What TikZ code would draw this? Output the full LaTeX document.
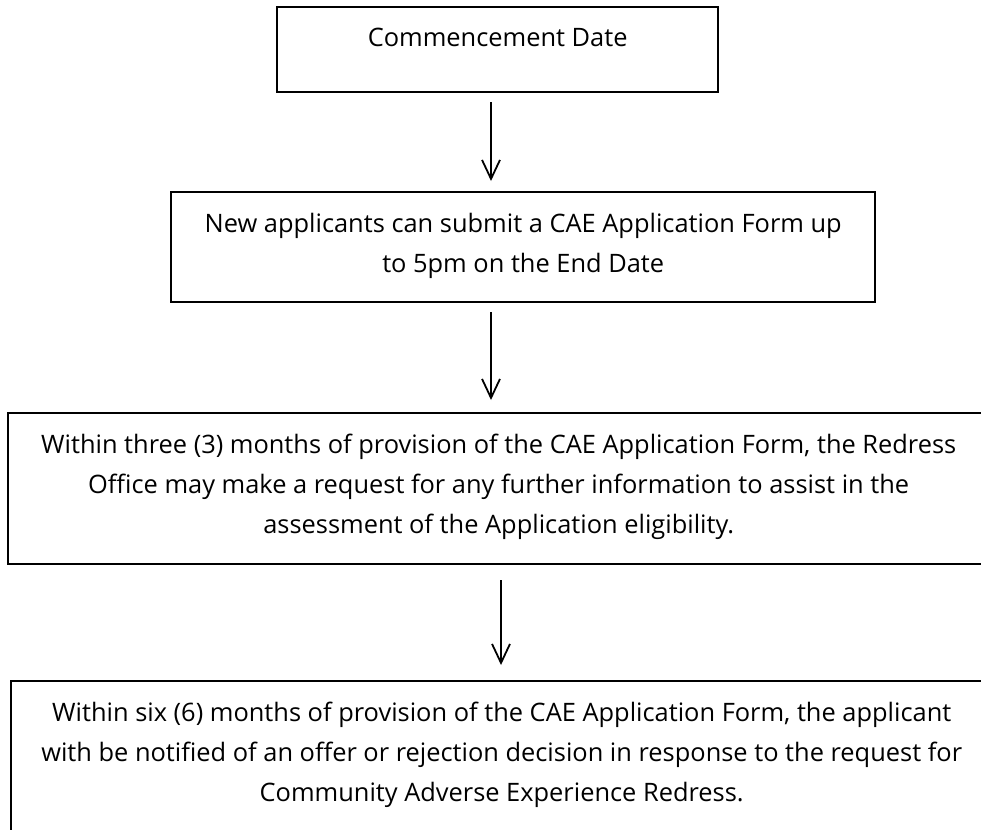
\documentclass[tikz,border=0pt]{standalone}
\usepackage{fontspec}
\setmainfont{Open Sans}
\usetikzlibrary{arrows.meta}
\tikzset{
	stepbox/.style={draw, line width=2.4pt, inner sep=0pt, anchor=north west},
	steptext/.style={anchor=north, inner sep=0pt, align=center, font=\fontsize{25.4}{40}\selectfont, yshift=-22pt},
	flow/.style={line width=1.8pt, -{Straight Barb[length=19pt, width=18pt, line width=1.8pt]}}
}
\begin{document}
\begin{tikzpicture}[x=1pt, y=-1pt]
		\useasboundingbox (0, 0) rectangle (981, 829);
		\clip (0, 0) rectangle (981, 829);
		\node[stepbox, minimum width=441pt, minimum height=85pt] (b1) at (276, 6) {};
		\node[stepbox, minimum width=704pt, minimum height=110pt] (b2) at (170, 191) {};
		\node[stepbox, minimum width=981pt, minimum height=151pt] (b3) at (7, 412) {};
		\node[stepbox, minimum width=981pt, minimum height=180pt] (b4) at (10, 680) {};
		\node[steptext] (t1) at (b1.north) {Commencement Date};
		\node[steptext] (t2) at (b2.north) {New applicants can submit a CAE Application Form up\\to 5pm on the End Date};
		\node[steptext] (t3) at (b3.north) {Within three (3) months of provision of the CAE Application Form, the Redress\\Office may make a request for any further information to assist in the\\assessment of the Application eligibility.};
		\node[steptext] (t4) at (b4.north) {Within six (6) months of provision of the CAE Application Form, the applicant\\with be notified of an offer or rejection decision in response to the request for\\Community Adverse Experience Redress.};
		\coordinate (ax1) at (491, 0);
		\coordinate (ax3) at (501, 0);
		\draw[flow, shorten <=9pt, shorten >=10pt] (b1.south -| ax1) -- (b2.north -| ax1);
		\draw[flow, shorten <=9pt, shorten >=12pt] (b2.south -| ax1) -- (b3.north -| ax1);
		\draw[flow, shorten <=15pt, shorten >=15pt] (b3.south -| ax3) -- (b4.north -| ax3);
	\end{tikzpicture}
\end{document}
